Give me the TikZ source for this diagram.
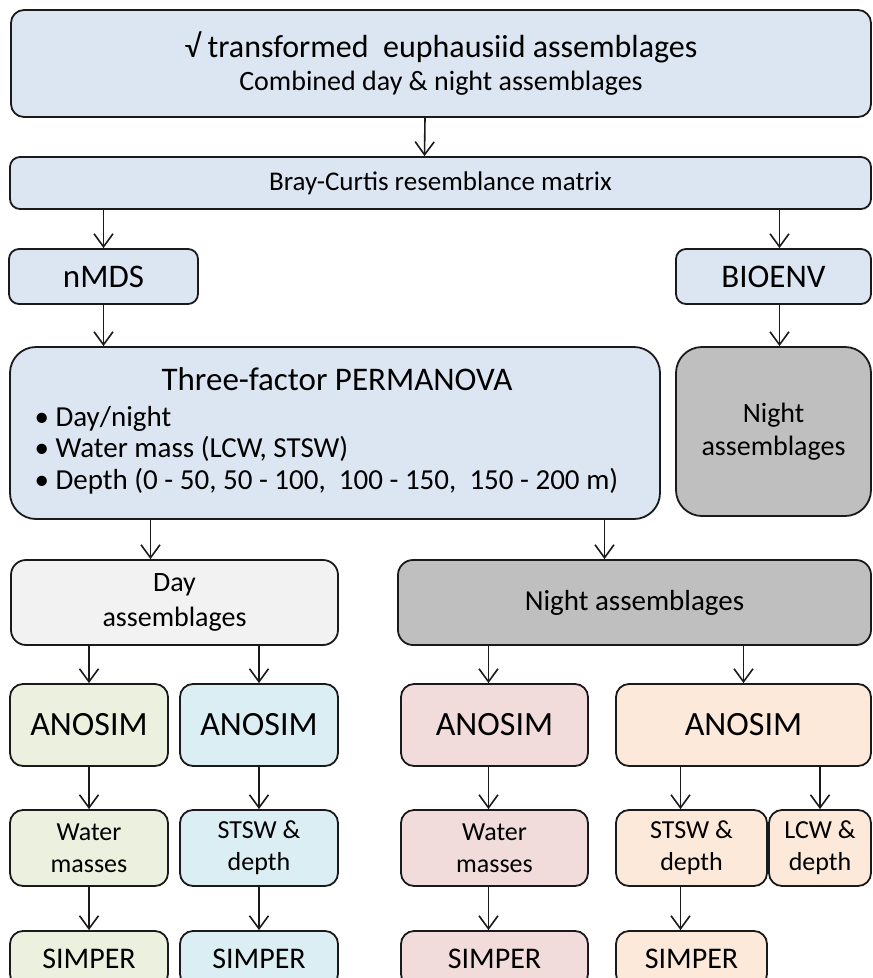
\documentclass[tikz,border=0pt]{standalone}
\usepackage{fontspec}
\setmainfont{Carlito}
\usetikzlibrary{arrows.meta,positioning}

\definecolor{lblue}{HTML}{DCE6F2}
\definecolor{dayfill}{HTML}{F2F2F2}
\definecolor{nightfill}{HTML}{BFBFBF}
\definecolor{greenfill}{HTML}{EBF1DE}
\definecolor{cyanfill}{HTML}{DBEEF4}
\definecolor{pinkfill}{HTML}{F2DCDB}
\definecolor{peachfill}{HTML}{FDE9D9}
\definecolor{edge}{HTML}{1A1A1A}
\newcommand{\fsz}[2]{\fontsize{#1}{#2}\selectfont}

\begin{document}
\begin{tikzpicture}[x=1pt,y=-1pt,
    box/.style={draw=edge, line width=1.8pt, rounded corners=13pt, align=center, inner sep=0pt},
    arr/.style={draw=edge, line width=1.6pt, -{Straight Barb[length=13pt,width=19pt]}}]
    \useasboundingbox (0,0) rectangle (873,978);
    % upper part
    \node[box, fill=lblue, minimum width=860, minimum height=107, font=\fsz{32}{33}] (top) at (441,63.5)
        {√ transformed\ \ euphausiid assemblages\\{\fsz{28}{33}Combined day \& night assemblages}};
    \node[box, fill=lblue, minimum width=861, minimum height=52, rounded corners=10pt, font=\fsz{27}{30}] (bray) at (440.5,183) {Bray-Curtis resemblance matrix};
    \node[box, fill=lblue, minimum width=189, minimum height=55, rounded corners=10pt, font=\fsz{33}{36}] (nmds) at (103.5,276.5) {nMDS};
    \node[box, fill=lblue, minimum width=195, minimum height=55, rounded corners=10pt, font=\fsz{33}{36}] (bioenv) at (773.5,276.5) {BIOENV};
    \node[box, fill=lblue, minimum width=650, minimum height=172, rounded corners=26pt] (perm) at (335,433) {};
    \node[font=\fsz{33}{36}] (permhead) at (337,379) {Three-factor PERMANOVA};
    \node[anchor=west, align=left, font=\fsz{29}{31.5}] (permlist) at (31,450)
        {• Day/night\\• Water mass (LCW, STSW)\\• Depth (0 - 50, 50 - 100,\ \ 100 - 150,\ \ 150 - 200 m)};
    \node[box, fill=nightfill, minimum width=195, minimum height=169, rounded corners=26pt, font=\fsz{28}{33}] (bionight) at (773.5,431.5) {Night\\assemblages};
    % day / night split
    \node[box, fill=dayfill, minimum width=327, minimum height=85, rounded corners=15pt, font=\fsz{28}{35}] (day) at (174.5,602.5) {Day\\assemblages};
    \node[box, fill=nightfill, minimum width=473, minimum height=85, rounded corners=15pt, font=\fsz{29}{35}] (night) at (634.5,602.5) {Night assemblages};
    % ANOSIM row
    \node[box, fill=greenfill, minimum width=158, minimum height=82, font=\fsz{34}{36}] (an1) at (89,725) {ANOSIM};
    \node[box, fill=cyanfill, minimum width=158, minimum height=82, font=\fsz{34}{36}] (an2) at (259,725) {ANOSIM};
    \node[box, fill=pinkfill, minimum width=187, minimum height=82, font=\fsz{34}{36}] (an3) at (494.5,725) {ANOSIM};
    \node[box, fill=peachfill, minimum width=255, minimum height=82, font=\fsz{34}{36}] (an4) at (743.5,725) {ANOSIM};
    % result row
    \node[box, fill=greenfill, minimum width=158, minimum height=76, font=\fsz{26}{32}] (wm1) at (89,848) {Water\\masses};
    \node[box, fill=cyanfill, minimum width=158, minimum height=76, font=\fsz{26}{32}] (st1) at (259,848) {STSW \&\\depth};
    \node[box, fill=pinkfill, minimum width=187, minimum height=76, font=\fsz{26}{32}] (wm2) at (494.5,848) {Water\\masses};
    \node[box, fill=peachfill, minimum width=151, minimum height=76, font=\fsz{26}{32}] (st2) at (691.5,848) {STSW \&\\depth};
    \node[box, fill=peachfill, minimum width=102, minimum height=76, font=\fsz{26}{32}] (lcw) at (820,848) {LCW \&\\depth};
    % SIMPER row, cut by the page edge
    \node[box, fill=greenfill, minimum width=158, minimum height=56, font=\fsz{30}{34}] (sp1) at (89,959) {SIMPER};
    \node[box, fill=cyanfill, minimum width=158, minimum height=56, font=\fsz{30}{34}] (sp2) at (259,959) {SIMPER};
    \node[box, fill=pinkfill, minimum width=187, minimum height=56, font=\fsz{30}{34}] (sp3) at (494.5,959) {SIMPER};
    \node[box, fill=peachfill, minimum width=151, minimum height=56, font=\fsz{30}{34}] (sp4) at (691.5,959) {SIMPER};
    % connectors
    \draw[arr] ([xshift=-16pt]top.south) -- ([xshift=-16pt]bray.north);
    \draw[arr] (bray.south -| nmds) -- (nmds.north);
    \draw[arr] ([xshift=6pt]bray.south -| bioenv) -- ([xshift=6pt]bioenv.north);
    \draw[arr] (nmds.south) -- (nmds.south |- perm.north);
    \draw[arr] ([xshift=6pt]bioenv.south) -- ([xshift=6pt]bioenv.south |- bionight.north);
    \draw[arr] ([xshift=-24pt]day.north |- perm.south) -- ([xshift=-24pt]day.north);
    \draw[arr] ([xshift=-30pt]night.north |- perm.south) -- ([xshift=-30pt]night.north);
    \draw[arr] (day.south -| an1) -- (an1.north);
    \draw[arr] (day.south -| an2) -- (an2.north);
    \draw[arr] ([xshift=-6pt]night.south -| an3) -- ([xshift=-6pt]an3.north);
    \draw[arr] (night.south -| an4) -- (an4.north);
    \draw[arr] ([xshift=-11pt]an4.south -| st2) -- ([xshift=-11pt]st2.north);
    \draw[arr] (an4.south -| lcw) -- (lcw.north);
    \foreach \a/\b in {an1/wm1, wm1/sp1, an2/st1, st1/sp2}
        \draw[arr] (\a) -- (\b);
    \draw[arr] ([xshift=-6pt]an3.south) -- ([xshift=-6pt]wm2.north);
    \draw[arr] ([xshift=-6pt]wm2.south) -- ([xshift=-6pt]sp3.north);
    \draw[arr] ([xshift=-11pt]st2.south) -- ([xshift=-11pt]sp4.north);
\end{tikzpicture}
\end{document}
